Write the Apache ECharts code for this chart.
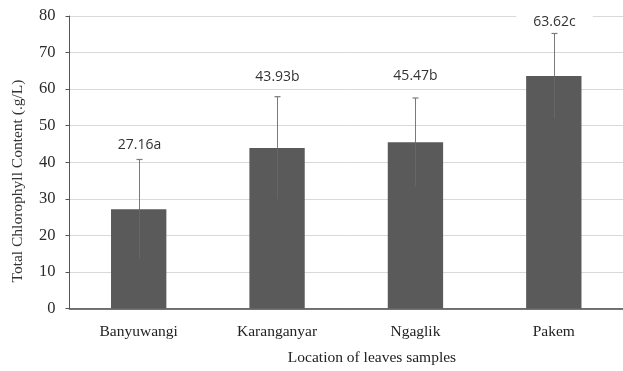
<!DOCTYPE html>
<html>
<head>
<meta charset="utf-8">
<script src="https://cdn.jsdelivr.net/npm/echarts@6/dist/echarts.min.js"></script>
<style>
  html, body { margin: 0; padding: 0; background: #fff; }
  #chart { width: 623px; height: 371px; }
</style>
</head>
<body>
<div id="chart"></div>
<script>
// Sampling sites and mean total chlorophyll content with standard deviations
const locations = ['Banyuwangi', 'Karanganyar', 'Ngaglik', 'Pakem'];
const chlorophyllMean = [27.16, 43.93, 45.47, 63.62];
const chlorophyllSd = [13.6, 14.0, 12.1, 11.6];
const groupLetters = ['a', 'b', 'b', 'c'];
const yTicks = [0, 10, 20, 30, 40, 50, 60, 70, 80];

// Gap in pixels between the top of each error bar and its value label
const labelLift = [14, 20, 22, 11];

const serif = '"Liberation Serif", "Times New Roman", serif';
const sans = '"Open Sans", "Noto Sans", sans-serif';

const chart = echarts.init(document.getElementById('chart'), null, { renderer: 'canvas' });

const errorData = chlorophyllMean.map((m, i) => [i, m - chlorophyllSd[i], m + chlorophyllSd[i], m]);

chart.setOption({
  animation: false,
  grid: { left: 69.5, top: 16, width: 556, bottom: 62.5, containLabel: false },
  xAxis: {
    type: 'category',
    data: locations,
    axisLine: { show: true, lineStyle: { color: '#4a4a4a', width: 1.5 } },
    axisTick: { show: false },
    axisLabel: { color: '#222', fontFamily: serif, fontSize: 15.5, margin: 15 },
    splitLine: { show: false }
  },
  yAxis: {
    type: 'value',
    min: yTicks[0],
    max: yTicks[yTicks.length - 1],
    interval: yTicks[1] - yTicks[0],
    axisLine: { show: true, lineStyle: { color: '#555', width: 1 } },
    axisTick: { show: true, length: 4, lineStyle: { color: '#555' } },
    axisLabel: { color: '#2a2a2a', fontFamily: serif, fontSize: 16.5, margin: 14 },
    splitLine: { show: true, lineStyle: { color: '#d9d9d9', width: 1 } }
  },
  series: [
    {
      type: 'bar',
      data: chlorophyllMean,
      barWidth: '40%',
      itemStyle: { color: '#5a5a5a' },
      z: 2
    },
    {
      type: 'custom',
      data: errorData,
      z: 3,
      clip: false,
      renderItem: function (params, api) {
        const idx = api.value(0);
        const low = api.coord([idx, api.value(1)]);
        const high = api.coord([idx, api.value(2)]);
        const mid = api.coord([idx, api.value(3)]);
        const x = Math.round(high[0]) + 0.5;
        const cap = 3;
        const i = params.dataIndex;
        const text = chlorophyllMean[i].toFixed(2) + groupLetters[i];
        return {
          type: 'group',
          children: [
            // whisker above the bar
            {
              type: 'line',
              shape: { x1: x, y1: mid[1], x2: x, y2: high[1] },
              style: { stroke: '#7a7a7a', lineWidth: 1 }
            },
            // whisker inside the bar, barely distinguishable from the fill
            {
              type: 'line',
              shape: { x1: x, y1: low[1], x2: x, y2: mid[1] },
              style: { stroke: '#666', lineWidth: 1 }
            },
            {
              type: 'line',
              shape: { x1: x - cap, y1: high[1], x2: x + cap, y2: high[1] },
              style: { stroke: '#7a7a7a', lineWidth: 1.2 }
            },
            {
              type: 'text',
              x: x,
              y: high[1] - labelLift[i],
              style: {
                text: text,
                fill: '#333',
                font: '14px ' + sans,
                align: 'center',
                verticalAlign: 'middle',
                backgroundColor: '#fff',
                padding: [2, 17]
              }
            }
          ]
        };
      }
    }
  ],
  graphic: [
    {
      type: 'text',
      x: 17.5,
      y: 181,
      rotation: Math.PI / 2,
      style: {
        text: 'Total Chlorophyll Content (.g/L)',
        fill: '#333',
        font: '15.5px ' + serif,
        align: 'center',
        verticalAlign: 'middle'
      }
    },
    {
      type: 'text',
      x: 372,
      y: 358,
      style: {
        text: 'Location of leaves samples',
        fill: '#222',
        font: '15.5px ' + serif,
        align: 'center',
        verticalAlign: 'middle'
      }
    }
  ]
});
</script>
</body>
</html>
